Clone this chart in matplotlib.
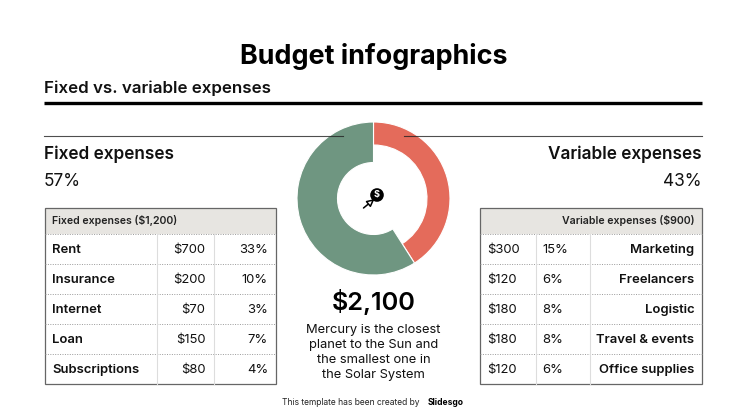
import matplotlib
matplotlib.use('Agg')
import matplotlib.pyplot as plt
from matplotlib.patches import Rectangle, Circle

plt.rcParams['font.family'] = ['Inter', 'DejaVu Sans']

WIDTH, HEIGHT = 747, 420
INK = '#111111'
GREEN = '#6f9681'
RED = '#e46b5b'

donut_values = [41, 59]
donut_colors = [RED, GREEN]
donut_holes = [53.5, 36]

fixed_title = 'Fixed expenses ($1,200)'
fixed_names = ['Rent', 'Insurance', 'Internet', 'Loan', 'Subscriptions']
fixed_amounts = ['$700', '$200', '$70', '$150', '$80']
fixed_shares = ['33%', '10%', '3%', '7%', '4%']

variable_title = 'Variable expenses ($900)'
variable_names = ['Marketing', 'Freelancers', 'Logistic', 'Travel & events', 'Office supplies']
variable_amounts = ['$300', '$120', '$180', '$180', '$120']
variable_shares = ['15%', '6%', '8%', '8%', '6%']

description = ['Mercury is the closest', 'planet to the Sun and', 'the smallest one in', 'the Solar System']


def draw_table(ax, left, right, col1, col2, title, title_x, title_ha, columns, text_pos):
    top, head, bottom = 207.5, 234, 384
    row_h = (bottom - head) / 5
    ax.add_patch(Rectangle((left, top), right - left, head - top, color='#e7e5e1', lw=0))
    for i in range(5):
        y = head + i * row_h
        ax.plot([left, right], [y, y], color='#9a9a9a', lw=0.7, ls=(0, (1, 1.5)))
    for x in (col1, col2):
        ax.plot([x, x], [head, bottom], color='#dddddd', lw=0.8)
    ax.add_patch(Rectangle((left, top), right - left, bottom - top, fill=False, ec='#666666', lw=0.9))
    ax.text(title_x, (top + head) / 2, title, fontsize=7.6, fontweight='semibold', color='#222222',
            ha=title_ha, va='center')
    for values, (x, ha, weight) in zip(columns, text_pos):
        for i, value in enumerate(values):
            ax.text(x, head + (i + 0.5) * row_h + 0.8, value, fontsize=9.4, fontweight=weight, color=INK,
                    ha=ha, va='center')


fig = plt.figure(figsize=(WIDTH / 100, HEIGHT / 100), dpi=100)
ax = fig.add_axes([0, 0, 1, 1], zorder=2)
ax.set_xlim(0, WIDTH)
ax.set_ylim(HEIGHT, 0)
ax.axis('off')
ax.patch.set_alpha(0)

# donut sits in its own axes, the rest is in pixel coords
cx, cy, r = 373.5, 198.5, 76.5
pie_ax = fig.add_axes([(cx - r) / WIDTH, 1 - (cy + r) / HEIGHT, 2 * r / WIDTH, 2 * r / HEIGHT], zorder=1)
wedges, _ = pie_ax.pie(donut_values, colors=donut_colors, startangle=90, counterclock=False, radius=1,
                       wedgeprops={'edgecolor': 'white', 'linewidth': 0.8})
pie_ax.set_xlim(-1, 1)
pie_ax.set_ylim(-1, 1)
for wedge, hole in zip(wedges, donut_holes):
    wedge.set_width((r - hole) / r)

ax.text(373.5, 57, 'Budget infographics', fontsize=19.4, fontweight='bold', color='black', ha='center', va='center')
ax.text(44, 88, 'Fixed vs. variable expenses', fontsize=12.2, fontweight='semibold', color=INK, ha='left', va='center')
ax.plot([44, 702], [103, 103], color='black', lw=2.4, solid_capstyle='butt')
ax.plot([44, 343], [136, 136], color='#222222', lw=0.8, alpha=0.8)
ax.plot([404, 702], [136, 136], color='#222222', lw=0.8, alpha=0.8)

ax.text(44, 154, 'Fixed expenses', fontsize=12.4, fontweight='semibold', color=INK, ha='left', va='center')
ax.text(44, 181, '57%', fontsize=12.4, color=INK, ha='left', va='center')
ax.text(702, 154, 'Variable expenses', fontsize=12.4, fontweight='semibold', color=INK, ha='right', va='center')
ax.text(702, 181, '43%', fontsize=12.4, color=INK, ha='right', va='center')

draw_table(ax, 44.5, 275.5, 156.5, 213.5, fixed_title, 52, 'left',
           [fixed_names, fixed_amounts, fixed_shares],
           [(52, 'left', 'semibold'), (205.5, 'right', 'normal'), (268, 'right', 'normal')])
draw_table(ax, 480, 702, 535.5, 590, variable_title, 694.5, 'right',
           [variable_amounts, variable_shares, variable_names],
           [(487, 'left', 'normal'), (542, 'left', 'normal'), (694.5, 'right', 'semibold')])

# small coin and arrow icon in the hole
ax.add_patch(Circle((377, 195), 6.8, color='black', lw=0))
ax.text(377, 195, '$', fontsize=6.5, fontweight='bold', color='white', ha='center', va='center')
ax.annotate('', xy=(374.5, 199), xytext=(363.5, 208),
            arrowprops={'arrowstyle': '-|>', 'color': 'black', 'lw': 1.1, 'mutation_scale': 11,
                        'shrinkA': 0, 'shrinkB': 0, 'fc': 'white'})

ax.text(373.5, 302, '$2,100', fontsize=18.2, fontweight='semibold', color='black', ha='center', va='center')
for i, line in enumerate(description):
    ax.text(373.5, 330.5 + i * 14.9, line, fontsize=9.3, color=INK, ha='center', va='center')

ax.text(282, 402.5, 'This template has been created by ', fontsize=6.1, color='#222222', ha='left', va='center')
ax.text(427.5, 402.5, 'Slidesgo', fontsize=6.1, fontweight='bold', color='black', ha='left', va='center')

fig.savefig('out.png', dpi=100, facecolor='white')
